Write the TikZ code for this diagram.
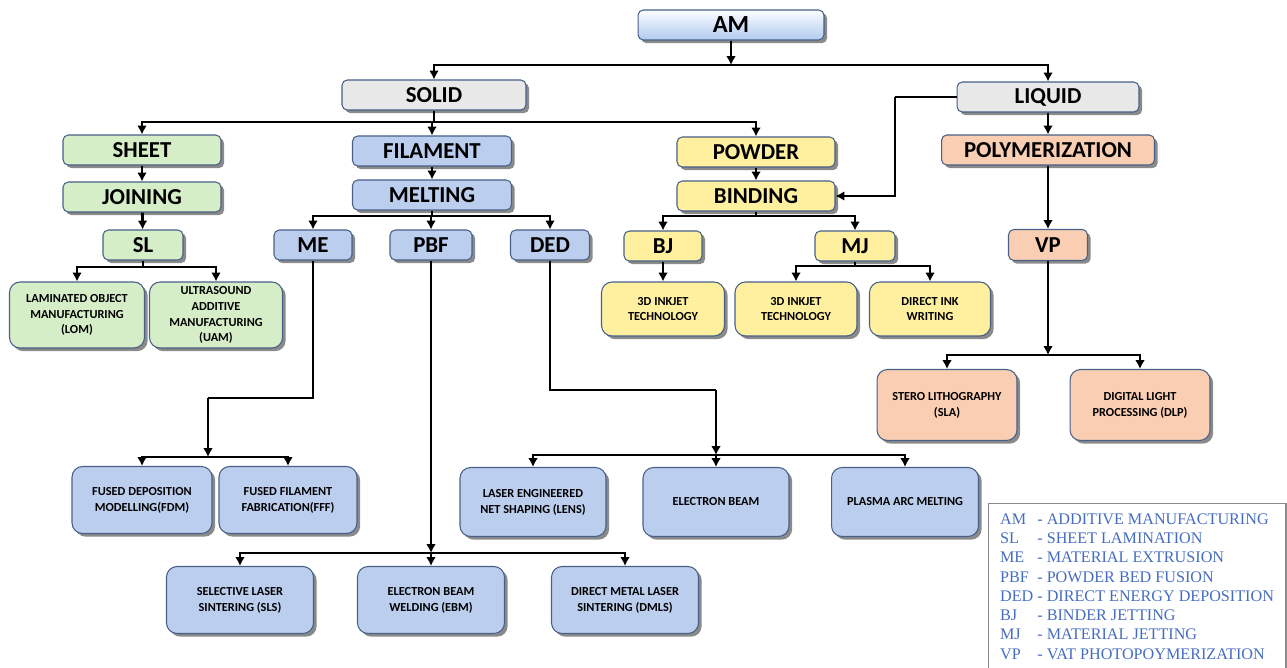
\documentclass[tikz,border=0pt]{standalone}
\usepackage{fontspec}
\setmainfont{Liberation Serif}
\newfontfamily\boxfont{Carlito}
\usetikzlibrary{arrows.meta,shadows}
\definecolor{amtop}{RGB}{252,253,255}
\definecolor{ambot}{RGB}{176,203,240}
\definecolor{greyfill}{RGB}{232,232,232}
\definecolor{greenfill}{RGB}{214,238,200}
\definecolor{bluefill}{RGB}{188,206,238}
\definecolor{yellowfill}{RGB}{255,240,160}
\definecolor{peachfill}{RGB}{250,206,178}
\definecolor{edge}{RGB}{72,96,136}
\definecolor{keyblue}{RGB}{70,108,192}
\begin{document}
\begin{tikzpicture}[x=0.02cm,y=-0.02cm,
    >={Latex[length=5pt,width=5.5pt]},
    every path/.style={line width=1.6pt},
    box/.style={rounded corners=3pt,draw=edge,line width=0.6pt,align=center,inner sep=1pt,
      drop shadow={shadow xshift=1.8pt,shadow yshift=-1.8pt,fill=black!65,opacity=.7}},
    head/.style={box,font=\boxfont\bfseries\fontsize{13}{15}\selectfont,minimum height=0.6cm},
    leaf/.style={box,rounded corners=6pt,font=\boxfont\bfseries\fontsize{7}{9}\selectfont},
    grey/.style={fill=greyfill},
    green/.style={fill=greenfill},
    blue/.style={fill=bluefill},
    yellow/.style={fill=yellowfill},
    peach/.style={fill=peachfill},
    key/.style={draw=black!45,line width=0.6pt,text=keyblue,font=\fontsize{9.2}{10.95}\selectfont}]
    \useasboundingbox (0,0) rectangle (1287,668);
    \path ( 731, 25) node [head,top color=amtop,bottom color=ambot,minimum width=3.72cm,font=\boxfont\bfseries\fontsize{14}{16}\selectfont] (am) {AM};
    \path ( 434, 95) node [head,grey,minimum width=3.68cm] (solid) {SOLID};
    \path (1048, 97) node [head,grey,minimum width=3.64cm] (liquid) {LIQUID};
    \path ( 142,150) node [head,green,minimum width=3.16cm] (sheet) {SHEET};
    \path ( 142,197) node [head,green,minimum width=3.16cm] (joining) {JOINING};
    \path ( 143,245) node [head,green,minimum width=1.6cm] (sl) {SL};
    \path (  77,315) node [leaf,green,minimum width=2.7cm,minimum height=1.32cm] (lom) {LAMINATED OBJECT\\MANUFACTURING\\(LOM)};
    \path ( 216,315) node [leaf,green,minimum width=2.66cm,minimum height=1.32cm] (uam) {ULTRASOUND\\ADDITIVE\\MANUFACTURING\\(UAM)};
    \path ( 432,151) node [head,blue,minimum width=3.18cm] (filament) {FILAMENT};
    \path ( 432,195) node [head,blue,minimum width=3.18cm] (melting) {MELTING};
    \path ( 313,245) node [head,blue,minimum width=1.56cm] (me) {ME};
    \path ( 431,245) node [head,blue,minimum width=1.64cm] (pbf) {PBF};
    \path ( 550,245) node [head,blue,minimum width=1.58cm] (ded) {DED};
    \path ( 142,500) node [leaf,blue,minimum width=2.8cm,minimum height=1.34cm] (fdm) {FUSED DEPOSITION\\MODELLING(FDM)};
    \path ( 288,500) node [leaf,blue,minimum width=2.76cm,minimum height=1.34cm] (fff) {FUSED FILAMENT\\FABRICATION(FFF)};
    \path ( 240,600) node [leaf,blue,minimum width=2.94cm,minimum height=1.34cm] (sls) {SELECTIVE LASER\\SINTERING (SLS)};
    \path ( 431,600) node [leaf,blue,minimum width=2.94cm,minimum height=1.34cm] (ebm) {ELECTRON BEAM\\WELDING (EBM)};
    \path ( 625,600) node [leaf,blue,minimum width=2.94cm,minimum height=1.34cm] (dmls) {DIRECT METAL LASER\\SINTERING (DMLS)};
    \path ( 533,502) node [leaf,blue,minimum width=2.92cm,minimum height=1.38cm] (lens) {LASER ENGINEERED\\NET SHAPING (LENS)};
    \path ( 716,502) node [leaf,blue,minimum width=2.92cm,minimum height=1.38cm] (ebeam) {ELECTRON BEAM};
    \path ( 905,502) node [leaf,blue,minimum width=2.94cm,minimum height=1.38cm] (plasma) {PLASMA ARC MELTING};
    \path ( 756,152) node [head,yellow,minimum width=3.16cm] (powder) {POWDER};
    \path ( 756,196) node [head,yellow,minimum width=3.16cm] (binding) {BINDING};
    \path ( 663,246) node [head,yellow,minimum width=1.56cm] (bj) {BJ};
    \path ( 855,246) node [head,yellow,minimum width=1.6cm] (mj) {MJ};
    \path ( 663,309) node [leaf,yellow,minimum width=2.46cm,minimum height=1.08cm] (bjink) {3D INKJET\\TECHNOLOGY};
    \path ( 796,309) node [leaf,yellow,minimum width=2.44cm,minimum height=1.08cm] (mjink) {3D INKJET\\TECHNOLOGY};
    \path ( 930,309) node [leaf,yellow,minimum width=2.42cm,minimum height=1.08cm] (diw) {DIRECT INK\\WRITING};
    \path (1048,150) node [head,peach,minimum width=4.26cm] (poly) {POLYMERIZATION};
    \path (1048,245) node [head,peach,minimum width=1.58cm,minimum height=0.62cm] (vp) {VP};
    \path ( 947,405) node [leaf,peach,minimum width=2.8cm,minimum height=1.42cm] (sla) {STERO LITHOGRAPHY\\(SLA)};
    \path (1140,405) node [leaf,peach,minimum width=2.8cm,minimum height=1.42cm] (dlp) {DIGITAL LIGHT\\PROCESSING (DLP)};
    \path (1137,588) node [key,minimum width=5.96cm,minimum height=3.38cm] (legend) {%
      \begin{tabular}{@{}l@{ }l@{}}
        AM  & - ADDITIVE MANUFACTURING\\
        SL  & - SHEET LAMINATION\\
        ME  & - MATERIAL EXTRUSION\\
        PBF & - POWDER BED FUSION\\
        DED & - DIRECT ENERGY DEPOSITION\\
        BJ  & - BINDER JETTING\\
        MJ  & - MATERIAL JETTING\\
        VP  & - VAT PHOTOPOYMERIZATION
      \end{tabular}};
    \coordinate (amBus) at (731,65);
    \coordinate (solidBus) at (434,122);
    \coordinate (slBus) at (143,267);
    \coordinate (meltBus) at (432,216);
    \coordinate (meKnee) at (208,398);
    \coordinate (meBus) at (208,457);
    \coordinate (pbfBus) at (431,553);
    \coordinate (dedKnee) at (716,390);
    \coordinate (dedBus) at (716,455);
    \coordinate (bindBus) at (756,216);
    \coordinate (mjBus) at (855,266);
    \coordinate (liqKnee) at (895,97);
    \coordinate (vpBus) at (1048,355);
    \draw [->] (am) -- (amBus);
    \draw [->] (amBus) -| (solid);
    \draw [->] (amBus) -| (liquid);
    \draw (solid) -- (solidBus);
    \draw [->] (solidBus) -| (sheet);
    \draw [->] (solidBus) -| (filament);
    \draw [->] (solidBus) -| (powder);
    \draw [->] (sheet) -- (joining);
    \draw [->] (joining) -- (sl);
    \draw (sl) -- (slBus);
    \draw [->] (slBus) -| (lom);
    \draw [->] (slBus) -| (uam);
    \draw [->] (filament) -- (melting);
    \draw (melting) -- (meltBus);
    \draw [->] (meltBus) -| (me);
    \draw [->] (meltBus) -| (pbf);
    \draw [->] (meltBus) -| (ded);
    \draw (me) |- (meKnee);
    \draw [->] (meKnee) -- (meBus);
    \draw [->] (meBus) -| (fdm);
    \draw [->] (meBus) -| (fff);
    \draw [->] (pbf) -- (pbfBus);
    \draw [->] (pbfBus) -| (sls);
    \draw [->] (pbfBus) -| (ebm);
    \draw [->] (pbfBus) -| (dmls);
    \draw (ded) |- (dedKnee);
    \draw [->] (dedKnee) -- (dedBus);
    \draw [->] (dedBus) -| (lens);
    \draw [->] (dedBus) -| (ebeam);
    \draw [->] (dedBus) -| (plasma);
    \draw [->] (powder) -- (binding);
    \draw (binding) -- (bindBus);
    \draw [->] (bindBus) -| (bj);
    \draw [->] (bindBus) -| (mj);
    \draw [->] (bj) -- (bjink);
    \draw (mj) -- (mjBus);
    \draw [->] (mjBus) -| (mjink);
    \draw [->] (mjBus) -| (diw);
    \draw (liquid.west) -- (liqKnee);
    \draw [->] (liqKnee) |- (binding.east);
    \draw [->] (liquid) -- (poly);
    \draw [->] (poly) -- (vp);
    \draw [->] (vp) -- (vpBus);
    \draw [->] (vpBus) -| (sla);
    \draw [->] (vpBus) -| (dlp);
\end{tikzpicture}
\end{document}
